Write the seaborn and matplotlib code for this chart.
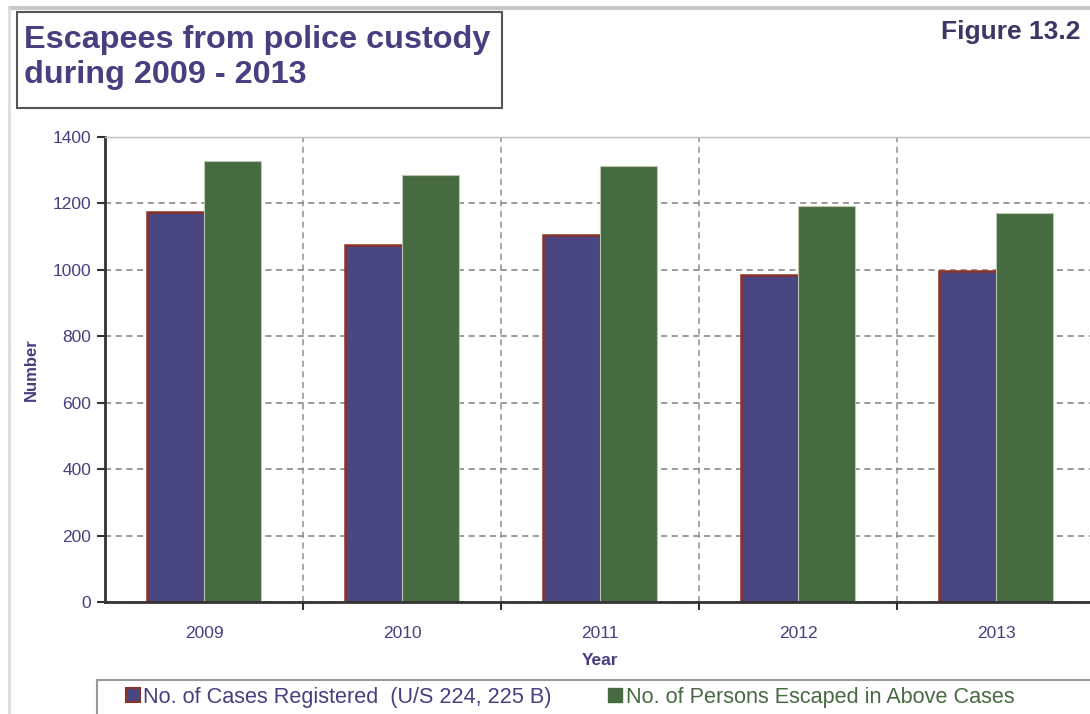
import numpy as np
import pandas as pd
import matplotlib
matplotlib.use("Agg")
import matplotlib.pyplot as plt
from matplotlib.patches import Patch, Rectangle
from matplotlib.lines import Line2D
import seaborn as sns

years = ["2009", "2010", "2011", "2012", "2013"]
cases = [1174, 1075, 1105, 985, 997]
persons = [1329, 1286, 1313, 1193, 1172]
series_names = ["No. of Cases Registered  (U/S 224, 225 B)",
                "No. of Persons Escaped in Above Cases"]
yticks = [0, 200, 400, 600, 800, 1000, 1200, 1400]

sns.set_theme(style="white")
plt.rcParams['font.family'] = ['Liberation Sans', 'DejaVu Sans']

PURPLE = "#4a3d80"
BLUE = "#4a4682"
GREEN = "#476b41"
EDGE_RED = "#8a3226"

df = pd.DataFrame({
    "Year": years * 2,
    "Number": cases + persons,
    "Series": [series_names[0]] * len(years) + [series_names[1]] * len(years),
})

W, H = 1090, 714
fig = plt.figure(figsize=(W / 100, H / 100), dpi=100)
fig.patch.set_facecolor("white")
ax = fig.add_axes([105 / W, (H - 602) / H, (1095 - 105) / W, (602 - 137) / H])

sns.barplot(data=df, x="Year", y="Number", hue="Series",
            palette=[BLUE, GREEN], width=0.58, gap=0, ax=ax,
            legend=False, saturation=1, errorbar=None)

n = len(years)
for i, p in enumerate(ax.patches[:2 * n]):
    if i < n:
        p.set_edgecolor(EDGE_RED)
        p.set_linewidth(1.8)
    else:
        p.set_edgecolor("#b9c7b0")
        p.set_linewidth(0.8)

ax.set_xlim(-0.5, n - 0.5)
ax.set_ylim(0, 1400)
ax.set_yticks(yticks)
ax.set_yticklabels([str(v) for v in yticks])
ax.set_xticks(range(n))
ax.set_xticklabels(years)
ax.set_xticks(np.arange(0.5, n, 1.0), minor=True)

ax.set_axisbelow(True)
ax.grid(False)
ax.yaxis.grid(True, which="major", color="#808080", linestyle=(0, (4, 3)), linewidth=1.1)
ax.xaxis.grid(True, which="minor", color="#909090", linestyle=(0, (4, 3)), linewidth=1.1)

ax.tick_params(axis="x", which="major", length=0, pad=17, labelsize=12.5, labelcolor=PURPLE)
ax.tick_params(axis="x", which="minor", length=6, width=1.5, color="#333333", direction="out", bottom=True)
ax.tick_params(axis="y", which="major", length=6, width=1.5, color="#333333", direction="out",
               left=True, labelsize=12.5, labelcolor=PURPLE, pad=4)

for s in ["left", "bottom"]:
    ax.spines[s].set_color("#333333")
    ax.spines[s].set_linewidth(2)
ax.spines["top"].set_color("#c0c0c0")
ax.spines["top"].set_linewidth(1)
ax.spines["right"].set_visible(False)

ax.set_xlabel("Year", fontsize=12.5, fontweight="bold", color=PURPLE, labelpad=9)
ax.set_ylabel("Number", fontsize=12, fontweight="bold", color=PURPLE, labelpad=10)

# page frame lines
fig.add_artist(Line2D([10 / W, 1.0], [1 - 8 / H, 1 - 8 / H], color="#c8c8c8", linewidth=3,
                      transform=fig.transFigure))
fig.add_artist(Line2D([9 / W, 9 / W], [0, 1 - 8 / H], color="#dcdcdc", linewidth=2,
                      transform=fig.transFigure))

# title box
fig.add_artist(Rectangle((17 / W, 1 - 108 / H), (502 - 17) / W, (108 - 12) / H,
                         transform=fig.transFigure, facecolor="white",
                         edgecolor="#555555", linewidth=1.5))
fig.text(24 / W, 1 - 25 / H, "Escapees from police custody\nduring 2009 - 2013",
         fontsize=23.3, fontweight="bold", color=PURPLE, va="top", ha="left",
         linespacing=1.2)
fig.text(1080 / W, 1 - 20 / H, "Figure 13.2", fontsize=19, fontweight="bold",
         color="#3d3566", va="top", ha="right")

# legend box
fig.add_artist(Rectangle((97 / W, -5 / H), (1100 - 97) / W, 39 / H,
                         transform=fig.transFigure, facecolor="white",
                         edgecolor="#999999", linewidth=1.5))
handles = [Patch(facecolor=BLUE, edgecolor=EDGE_RED, linewidth=1.5),
           Patch(facecolor=GREEN, edgecolor=GREEN)]
leg = fig.legend(handles, series_names, loc="center left",
                 bbox_to_anchor=(126 / W, 1 - 697 / H),
                 ncol=2, frameon=False,
                 handlelength=0.65, handleheight=0.65, handletextpad=0.15,
                 columnspacing=2.6, borderaxespad=0, borderpad=0,
                 prop={"size": 15.6})
leg.get_texts()[0].set_color(PURPLE)
leg.get_texts()[1].set_color(GREEN)

fig.savefig("out.png", dpi=100, facecolor="white")
